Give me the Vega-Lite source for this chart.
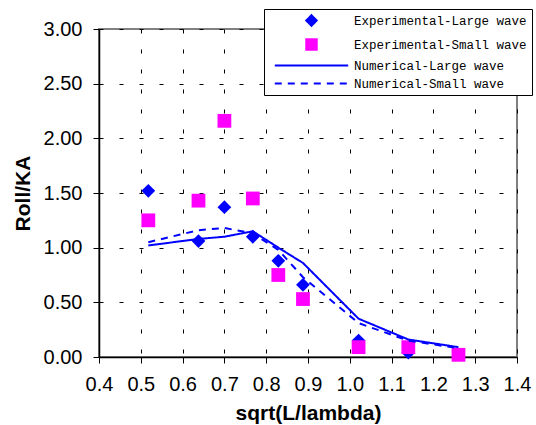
{
  "$schema": "https://vega.github.io/schema/vega-lite/v6.json",
  "width": 418,
  "height": 328,
  "autosize": {"type": "none"},
  "padding": {"left": 99, "top": 29, "right": 19, "bottom": 68},
  "background": "white",
  "data": {
    "values": [
      {"series": "Experimental-Large wave", "x": 0.518, "y": 1.52},
      {"series": "Experimental-Large wave", "x": 0.638, "y": 1.06},
      {"series": "Experimental-Large wave", "x": 0.700, "y": 1.37},
      {"series": "Experimental-Large wave", "x": 0.768, "y": 1.10},
      {"series": "Experimental-Large wave", "x": 0.829, "y": 0.88},
      {"series": "Experimental-Large wave", "x": 0.888, "y": 0.66},
      {"series": "Experimental-Large wave", "x": 1.021, "y": 0.15},
      {"series": "Experimental-Large wave", "x": 1.140, "y": 0.04},
      {"series": "Experimental-Small wave", "x": 0.518, "y": 1.25},
      {"series": "Experimental-Small wave", "x": 0.638, "y": 1.43},
      {"series": "Experimental-Small wave", "x": 0.700, "y": 2.16},
      {"series": "Experimental-Small wave", "x": 0.768, "y": 1.45},
      {"series": "Experimental-Small wave", "x": 0.829, "y": 0.75},
      {"series": "Experimental-Small wave", "x": 0.888, "y": 0.53},
      {"series": "Experimental-Small wave", "x": 1.021, "y": 0.09},
      {"series": "Experimental-Small wave", "x": 1.140, "y": 0.09},
      {"series": "Experimental-Small wave", "x": 1.260, "y": 0.02},
      {"series": "Numerical-Large wave", "x": 0.518, "y": 1.02},
      {"series": "Numerical-Large wave", "x": 0.638, "y": 1.08},
      {"series": "Numerical-Large wave", "x": 0.700, "y": 1.10},
      {"series": "Numerical-Large wave", "x": 0.768, "y": 1.15},
      {"series": "Numerical-Large wave", "x": 0.829, "y": 1.00},
      {"series": "Numerical-Large wave", "x": 0.888, "y": 0.86},
      {"series": "Numerical-Large wave", "x": 1.021, "y": 0.35},
      {"series": "Numerical-Large wave", "x": 1.140, "y": 0.16},
      {"series": "Numerical-Large wave", "x": 1.260, "y": 0.09},
      {"series": "Numerical-Small wave", "x": 0.518, "y": 1.05},
      {"series": "Numerical-Small wave", "x": 0.638, "y": 1.16},
      {"series": "Numerical-Small wave", "x": 0.700, "y": 1.18},
      {"series": "Numerical-Small wave", "x": 0.768, "y": 1.13},
      {"series": "Numerical-Small wave", "x": 0.829, "y": 0.98},
      {"series": "Numerical-Small wave", "x": 0.888, "y": 0.73},
      {"series": "Numerical-Small wave", "x": 1.021, "y": 0.31},
      {"series": "Numerical-Small wave", "x": 1.140, "y": 0.15},
      {"series": "Numerical-Small wave", "x": 1.260, "y": 0.08}
    ]
  },
  "config": {
    "view": {"stroke": "#808080", "strokeWidth": 2},
    "axis": {
      "labelFont": "Liberation Sans",
      "labelFontSize": 20,
      "labelColor": "#000000",
      "titleFont": "Liberation Sans",
      "titleFontSize": 21,
      "titleFontWeight": "bold",
      "titleColor": "#000000",
      "domainColor": "#000000",
      "domainWidth": 1.5,
      "tickColor": "#000000",
      "tickSize": 6,
      "tickWidth": 1,
      "labelPadding": 11,
      "gridColor": "#000000",
      "gridDash": [4, 16],
      "gridWidth": 1,
      "gridOpacity": 1
    }
  },
  "layer": [
    {
      "transform": [{"filter": {"field": "series", "oneOf": ["Experimental-Large wave", "Experimental-Small wave"]}}],
      "mark": {"type": "point", "filled": true, "size": 190, "opacity": 1},
      "encoding": {
        "x": {
          "field": "x", "type": "quantitative",
          "scale": {"domain": [0.4, 1.4], "nice": false, "zero": false},
          "axis": {"title": "sqrt(L/lambda)", "values": [0.4, 0.5, 0.6, 0.7, 0.8, 0.9, 1.0, 1.1, 1.2, 1.3, 1.4], "format": ".1f", "titlePadding": 8, "labelFlush": false, "labelOverlap": false}
        },
        "y": {
          "field": "y", "type": "quantitative",
          "scale": {"domain": [0, 3], "nice": false, "zero": true},
          "axis": {"title": "Roll/KA", "values": [0, 0.5, 1, 1.5, 2, 2.5, 3], "format": ".2f", "titlePadding": 10, "labelFlush": false, "labelOverlap": false}
        },
        "color": {
          "field": "series", "type": "nominal",
          "scale": {
            "domain": ["Experimental-Large wave", "Experimental-Small wave", "Numerical-Large wave", "Numerical-Small wave"],
            "range": ["#0000FF", "#FF00FF", "#0000FF", "#0000FF"]
          },
          "legend": {
            "title": null,
            "orient": "none",
            "legendX": 165,
            "legendY": -20,
            "padding": 5,
            "strokeColor": "#000000",
            "fillColor": "#ffffff",
            "labelFont": "Liberation Mono",
            "labelFontSize": 12.5,
            "labelColor": "#000000",
            "labelLimit": 400,
            "rowPadding": 5,
            "symbolSize": 110,
            "symbolOffset": 36,
            "labelOffset": 36,
            "symbolStrokeWidth": 2,
            "encode": {
              "symbols": {
                "update": {
                  "shape": {"signal": "datum.value === 'Experimental-Large wave' ? 'diamond' : datum.value === 'Experimental-Small wave' ? 'square' : 'M-7,0L7,0'"},
                  "fill": {"signal": "datum.value === 'Experimental-Large wave' ? '#0000FF' : datum.value === 'Experimental-Small wave' ? '#FF00FF' : 'transparent'"},
                  "stroke": {"signal": "indexof(datum.value, 'Numerical') === 0 ? '#0000FF' : 'transparent'"},
                  "strokeDash": {"signal": "datum.value === 'Numerical-Small wave' ? [7, 6] : [1, 0]"},
                  "strokeWidth": {"value": 2},
                  "opacity": {"value": 1}
                }
              }
            }
          }
        },
        "shape": {
          "field": "series", "type": "nominal",
          "scale": {
            "domain": ["Experimental-Large wave", "Experimental-Small wave", "Numerical-Large wave", "Numerical-Small wave"],
            "range": ["diamond", "square", "M-7,0L7,0", "M-7,0L7,0"]
          }
        }
      }
    },
    {
      "transform": [{"filter": {"field": "series", "oneOf": ["Numerical-Large wave", "Numerical-Small wave"]}}],
      "mark": {"type": "line", "strokeWidth": 2},
      "encoding": {
        "x": {"field": "x", "type": "quantitative"},
        "y": {"field": "y", "type": "quantitative"},
        "color": {"field": "series", "type": "nominal"},
        "strokeDash": {
          "field": "series", "type": "nominal",
          "scale": {
            "domain": ["Experimental-Large wave", "Experimental-Small wave", "Numerical-Large wave", "Numerical-Small wave"],
            "range": [[1, 0], [1, 0], [1, 0], [7, 6]]
          },
          "legend": null
        }
      }
    }
  ]
}
